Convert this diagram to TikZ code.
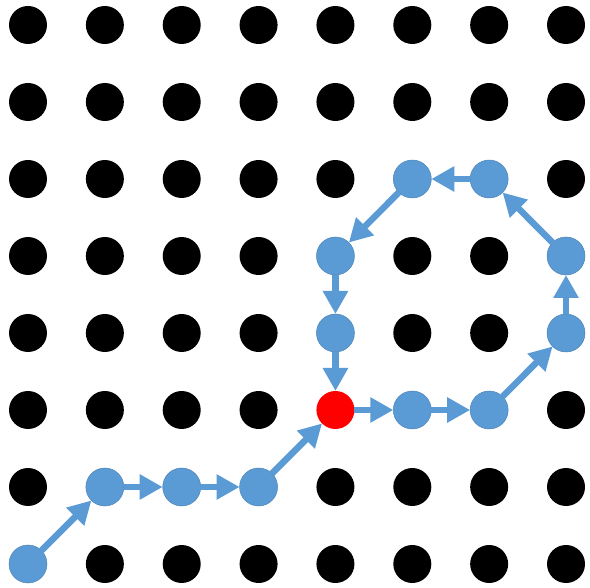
\documentclass[tikz,border=0pt]{standalone}
\usetikzlibrary{arrows.meta}
\definecolor{pathblue}{HTML}{5B9BD5}
\definecolor{startred}{HTML}{FF0000}
\tikzset{
  x=1pt, y=1pt,
  dot/.style={circle, fill=black, minimum size=38pt, inner sep=0pt, outer sep=0pt},
  visited/.style={fill=pathblue, draw=pathblue!85!black, line width=0.5pt},
  origin/.style={fill=startred},
  c-0-7/.style={visited}, c-1-6/.style={visited}, c-2-6/.style={visited},
  c-3-6/.style={visited}, c-4-5/.style={origin}, c-5-5/.style={visited},
  c-6-5/.style={visited}, c-7-4/.style={visited}, c-7-3/.style={visited},
  c-6-2/.style={visited}, c-5-2/.style={visited}, c-4-3/.style={visited},
  c-4-4/.style={visited},
  arr/.style={draw=pathblue, line width=6.5pt, -{Triangle[length=23pt,width=24pt]}}
}
\begin{document}
\begin{tikzpicture}
\useasboundingbox (0,0) rectangle (590,-588);
\foreach \i in {0,...,7}{
  \foreach \j in {0,...,7}{
    \node[dot, c-\i-\j/.try] (n-\i-\j) at ({28+76.86*\i},{-(25+77*\j)}) {};
  }
}
\draw[arr] (n-0-7) -- (n-1-6);
\draw[arr] (n-1-6) -- (n-2-6);
\draw[arr] (n-2-6) -- (n-3-6);
\draw[arr] (n-3-6) -- (n-4-5);
\draw[arr] (n-4-5) -- (n-5-5);
\draw[arr] (n-5-5) -- (n-6-5);
\draw[arr] (n-6-5) -- (n-7-4);
\draw[arr] (n-7-4) -- (n-7-3);
\draw[arr] (n-7-3) -- (n-6-2);
\draw[arr] (n-6-2) -- (n-5-2);
\draw[arr] (n-5-2) -- (n-4-3);
\draw[arr] (n-4-3) -- (n-4-4);
\draw[arr] (n-4-4) -- (n-4-5);
\end{tikzpicture}
\end{document}
